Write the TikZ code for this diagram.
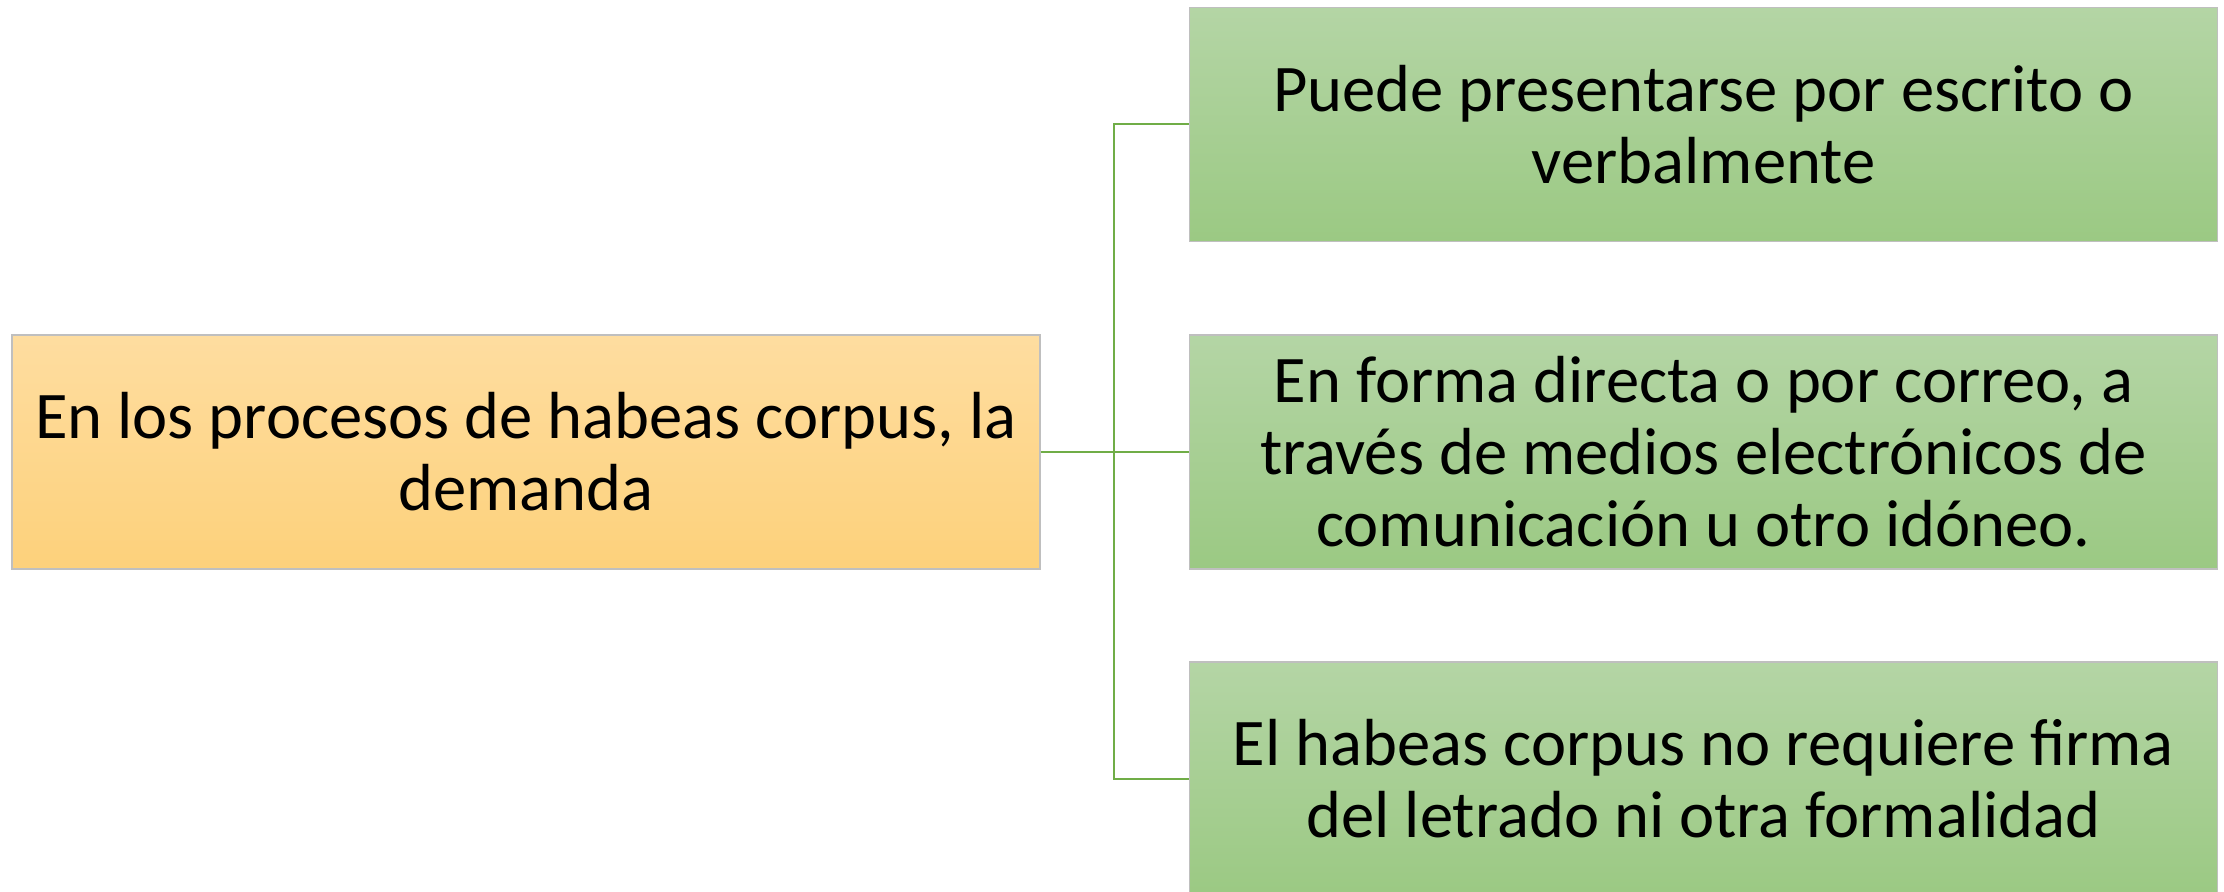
\documentclass[tikz,border=0pt]{standalone}
\usepackage{fontspec}
\setmainfont{Carlito}
\usetikzlibrary{calc}
\definecolor{linegreen}{HTML}{70AD47}
\definecolor{orgtop}{HTML}{FEDDA0}
\definecolor{orgbot}{HTML}{FDD17B}
\definecolor{grntop}{HTML}{B4D5A5}
\definecolor{grnbot}{HTML}{9BC983}
\tikzset{
  box/.style={rectangle, minimum width=514pt, minimum height=117pt,
    align=center, inner sep=0pt, draw=black!25, line width=0.6pt,
    font=\fontsize{33.3}{36}\selectfont},
  orgbox/.style={box, top color=orgtop, bottom color=orgbot},
  grnbox/.style={box, top color=grntop, bottom color=grnbot},
  conn/.style={draw=linegreen, line width=1pt}
}
\begin{document}
\begin{tikzpicture}[x=0.5pt,y=-0.5pt]
\useasboundingbox (0,0) rectangle (2224,892);
\clip (0,0) rectangle (2224,892);
\node[orgbox] (root) at (526,452) {En los procesos de habeas corpus, la\\demanda};
\node[grnbox] (a) at (1703.5,124.5) {Puede presentarse por escrito o\\verbalmente};
\node[grnbox] (b) at (1703.5,452) {En forma directa o por correo, a\\través de medios electrónicos de\\comunicación u otro idóneo.};
\node[grnbox] (c) at (1703.5,779) {El habeas corpus no requiere firma\\del letrado ni otra formalidad};
\coordinate (ja) at (1114,124.5);
\coordinate (jc) at (1114,779);
\draw[conn] (root.east) -- (b.west);
\draw[conn] (a.west) -- (ja) -- (jc) -- (c.west);
\end{tikzpicture}
\end{document}
